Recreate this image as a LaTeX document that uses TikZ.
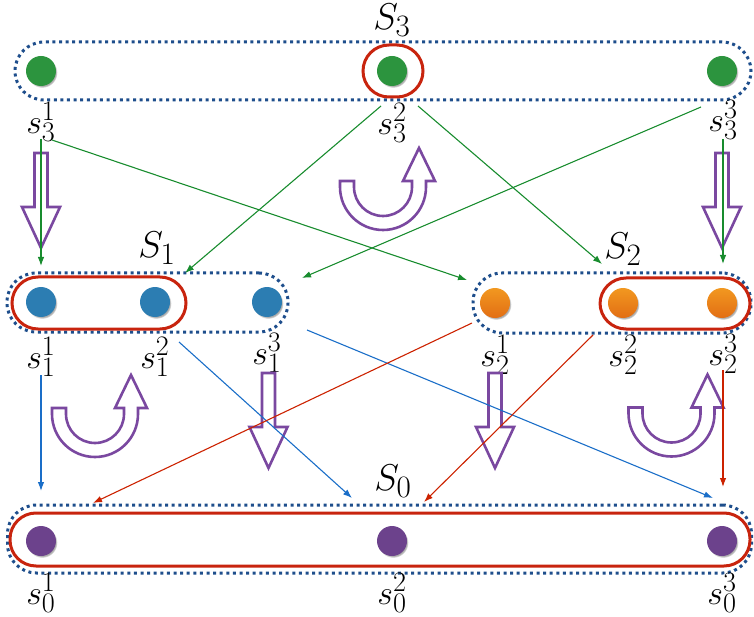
\documentclass[tikz,border=0pt]{standalone}
\usetikzlibrary{arrows.meta,shadows}
\definecolor{grpblue}{RGB}{30,78,140}
\definecolor{selred}{RGB}{200,36,14}
\definecolor{fatpurple}{RGB}{122,72,160}
\definecolor{lgreen}{RGB}{24,140,46}
\definecolor{lblue}{RGB}{26,110,200}
\definecolor{lred}{RGB}{204,34,0}
\definecolor{dgreen}{RGB}{44,148,62}
\definecolor{dblue}{RGB}{44,125,178}
\definecolor{dorangeT}{RGB}{242,152,32}
\definecolor{dorangeB}{RGB}{226,110,20}
\definecolor{dpurple}{RGB}{108,66,140}
\tikzset{
  grp/.style={draw=grpblue, line width=3pt, dash pattern=on 3pt off 3.6pt, rounded corners=29pt, inner sep=0pt},
  sel/.style={draw=selred, line width=3pt, rounded corners=26pt, inner sep=0pt},
  ball/.style={circle, minimum size=30pt, inner sep=0pt, fill=#1,
    circular drop shadow={shadow xshift=1.2pt, shadow yshift=-1.6pt, opacity=0.35, fill=black, shadow scale=1.02}},
  oball/.style={circle, minimum size=30pt, inner sep=0pt, top color=dorangeT, bottom color=dorangeB,
    circular drop shadow={shadow xshift=1.2pt, shadow yshift=-1.6pt, opacity=0.35, fill=black, shadow scale=1.02}},
  lab/.style={font=\Huge, scale=1.36, transform shape, inner sep=0pt},
  biglab/.style={font=\Huge, scale=1.5, transform shape, inner sep=0pt},
  glin/.style={draw=lgreen, line width=1.1pt, -{Latex[length=9pt,width=6.5pt]}},
  blin/.style={draw=lblue, line width=1.1pt, -{Latex[length=9pt,width=6.5pt]}},
  rlin/.style={draw=lred, line width=1.1pt, -{Latex[length=9pt,width=6.5pt]}},
  fat/.style={draw=fatpurple, line width=2.6pt, line join=miter}
}
\newcommand\fatdown[2]{%
  \draw[fat] ({#1-6.5},#2) -- ({#1+6.5},#2) -- ({#1+6.5},#2+54) -- ({#1+19},#2+54)
    -- (#1,#2+95) -- ({#1-19},#2+54) -- ({#1-6.5},#2+54) -- cycle;}
\newcommand\uturn[2]{%
  \draw[fat] ({#1-43},{#2-6}) -- ({#1-43},#2) arc[start angle=180,end angle=0,radius=43]
    -- ({#1+43},{#2-6}) -- ({#1+52},{#2-6}) -- ({#1+36},{#2-39}) -- ({#1+20},{#2-6})
    -- ({#1+29},{#2-6}) -- ({#1+29},#2) arc[start angle=0,end angle=180,radius=29]
    -- ({#1-29},{#2-6}) -- cycle;}
\begin{document}
\begin{tikzpicture}[x=1pt,y=-1pt]
\useasboundingbox (0,0) rectangle (754,617);
% group boxes
\node[grp, minimum width=736pt, minimum height=58pt] (G3) at (383,71) {};
\node[sel, minimum width=60pt, minimum height=52pt] (R3) at (393,71) {};
\node[grp, minimum width=281pt, minimum height=59pt] (G1) at (147.5,302.5) {};
\node[sel, minimum width=174pt, minimum height=52pt] (R1) at (99,303) {};
\node[grp, minimum width=278pt, minimum height=60pt] (G2) at (612,303) {};
\node[sel, minimum width=150pt, minimum height=51pt] (R2) at (675,303.5) {};
\node[grp, minimum width=744pt, minimum height=68pt] (G0) at (379.5,539) {};
\node[sel, minimum width=740pt, minimum height=53pt] (R0) at (380,539.5) {};
% group labels
\node[biglab] (S3) at (392,20) {$S_3$};
\node[biglab] (S1) at (157,248) {$S_1$};
\node[biglab] (S2) at (623,249) {$S_2$};
\node[biglab] (S0) at (393,481) {$S_0$};
% dots
\node[ball=dgreen] (a1) at (41,71) {};
\node[ball=dgreen] (a2) at (392,71) {};
\node[ball=dgreen] (a3) at (722,71) {};
\node[ball=dblue] (b1) at (41,302) {};
\node[ball=dblue] (b2) at (155,302) {};
\node[ball=dblue] (b3) at (267,302) {};
\node[oball] (c1) at (495,303) {};
\node[oball] (c2) at (623,303) {};
\node[oball] (c3) at (722,303) {};
\node[ball=dpurple] (d1) at (41,541) {};
\node[ball=dpurple] (d2) at (392,541) {};
\node[ball=dpurple] (d3) at (722,541) {};
% state labels
\node[lab] (la1) at (41,122) {$s_3^1$};
\node[lab] (la2) at (392,123) {$s_3^2$};
\node[lab] (la3) at (723,120) {$s_3^3$};
\node[lab] (lb1) at (41,357) {$s_1^1$};
\node[lab] (lb2) at (155,357) {$s_1^2$};
\node[lab] (lb3) at (267,353) {$s_1^3$};
\node[lab] (lc1) at (495,355) {$s_2^1$};
\node[lab] (lc2) at (623,355) {$s_2^2$};
\node[lab] (lc3) at (723,354) {$s_2^3$};
\node[lab] (ld1) at (41,593) {$s_0^1$};
\node[lab] (ld2) at (392,593) {$s_0^2$};
\node[lab] (ld3) at (722,593) {$s_0^3$};
% connector end points
\coordinate (g1s) at (41,139);  \coordinate (g1e) at (41,266);
\coordinate (g2s) at (52,140);  \coordinate (g2e) at (467,280);
\coordinate (g3s) at (381,106); \coordinate (g3e) at (185,273);
\coordinate (g4s) at (418,106); \coordinate (g4e) at (602,264);
\coordinate (g5s) at (701,107); \coordinate (g5e) at (302,278);
\coordinate (g6s) at (723,139); \coordinate (g6e) at (723,264);
\coordinate (b1s) at (41,375);  \coordinate (b1e) at (41,491);
\coordinate (b2s) at (179,342); \coordinate (b2e) at (352,498);
\coordinate (b3s) at (307,330); \coordinate (b3e) at (713,498);
\coordinate (r1s) at (472,323); \coordinate (r1e) at (93,503);
\coordinate (r2s) at (593,335); \coordinate (r2e) at (424,502);
\coordinate (r3s) at (723,370); \coordinate (r3e) at (723,487);
% purple process arrows
\fatdown{41}{153}
\fatdown{722}{153}
\fatdown{268.5}{373}
\fatdown{495}{373}
\uturn{383}{187}
\uturn{95}{414}
\uturn{671.5}{413.5}
% connectors
\draw[glin] (g1s) -- (g1e);
\draw[glin] (g2s) -- (g2e);
\draw[glin] (g3s) -- (g3e);
\draw[glin] (g4s) -- (g4e);
\draw[glin] (g5s) -- (g5e);
\draw[glin] (g6s) -- (g6e);
\draw[blin] (b1s) -- (b1e);
\draw[blin] (b2s) -- (b2e);
\draw[blin] (b3s) -- (b3e);
\draw[rlin] (r1s) -- (r1e);
\draw[rlin] (r2s) -- (r2e);
\draw[rlin] (r3s) -- (r3e);
\end{tikzpicture}
\end{document}
